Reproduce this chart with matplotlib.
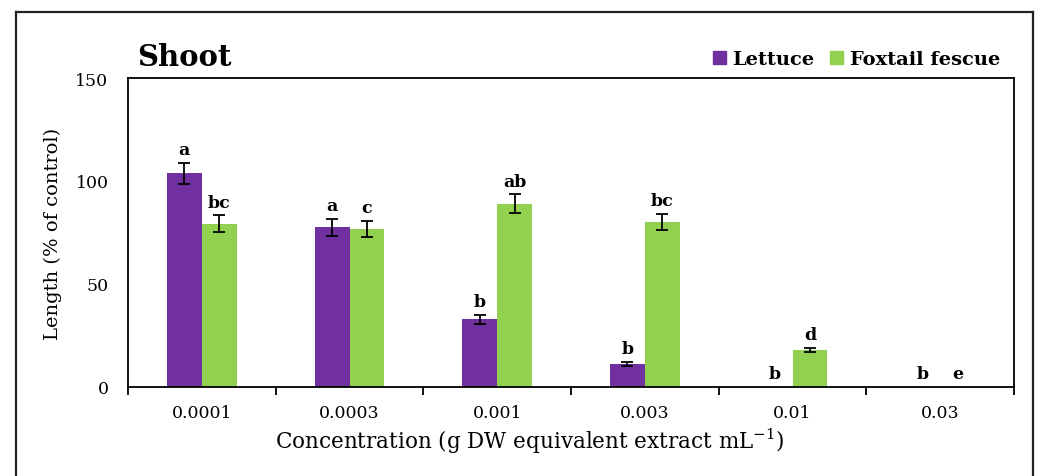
import numpy as np
import matplotlib
matplotlib.use('Agg')
import matplotlib.pyplot as plt
from matplotlib.lines import Line2D
from matplotlib.patches import Patch

#plot settings
matplotlib.rcParams.update({
    'font.family'      : 'DejaVu Serif',
    'mathtext.fontset' : 'dejavuserif',
})

categories = ['0.0001', '0.0003', '0.001', '0.003', '0.01', '0.03']
lettuce = [103.7, 77.5, 32.8, 11.2, 0, 0]
lettuce_err = [5.0, 4.0, 2.0, 1.0, 0, 0]
fescue = [79.3, 76.7, 89.0, 80.2, 18.0, 0]
fescue_err = [4.0, 4.0, 4.5, 4.0, 1.0, 0]
lettuce_letters = ['a', 'a', 'b', 'b', 'b', 'b']
fescue_letters = ['bc', 'c', 'ab', 'bc', 'd', 'e']

purple = '#7030A0'
green = '#92D050'

fig = plt.figure(figsize=(10.37, 4.77), dpi=100)
ax = fig.add_axes([128/1037, 1-388/477, 886/1037, 309/477])

x = np.arange(len(categories))
w = 0.237
ax.bar(x - w/2, lettuce, w, color=purple, label='Lettuce')
ax.bar(x + w/2, fescue, w, color=green, label='Foxtail fescue')

for xs, vals, errs, letters in [(x - w/2, lettuce, lettuce_err, lettuce_letters),
                                (x + w/2, fescue, fescue_err, fescue_letters)]:
  for xi, v, e, t in zip(xs, vals, errs, letters):
    if e > 0:
      ax.errorbar(xi, v, yerr=e, fmt='none', ecolor='black', elinewidth=1.3,
                  capsize=4, capthick=1.3)
    ax.annotate(t, (xi, v + e), xytext=(0, 3.5), textcoords='offset points',
                ha='center', va='bottom', fontsize=12.5, fontweight='bold')

ax.set_xlim(-0.5, 5.5)
ax.set_ylim(0, 150)
ax.set_yticks([0, 50, 100, 150])
ax.tick_params(axis='y', length=0, pad=14, labelsize=12.5)
ax.set_xticks(np.arange(-0.5, 6, 1))
ax.set_xticklabels([])
ax.tick_params(axis='x', which='major', direction='out', length=6, width=1.3)
ax.set_xticks(x, minor=True)
ax.set_xticklabels(categories, minor=True)
ax.tick_params(axis='x', which='minor', length=0, pad=12, labelsize=12.5)
for s in ax.spines.values():
  s.set_linewidth(1.3)

ax.set_ylabel('Length (% of control)', fontsize=14)
ax.yaxis.set_label_coords(-0.0745, 0.5)
ax.set_xlabel(r'Concentration (g DW equivalent extract mL$^{-1}$)', fontsize=15.5)
ax.xaxis.set_label_coords(0.453, -0.125)

fig.text(137/1037, 1-66/477, 'Shoot', fontsize=21, fontweight='bold',
         ha='left', va='baseline')

handles = [Patch(color=purple), Patch(color=green)]
ax.legend(handles, ['Lettuce', 'Foxtail fescue'], loc='center right',
          bbox_to_anchor=(0.995, 1.061), ncol=2, frameon=False, borderpad=0,
          handlelength=0.65, handleheight=0.65, handletextpad=0.35,
          columnspacing=0.8, prop={'size': 14, 'weight': 'bold'})

# outer frame
fx0, fx1, fy1 = 16/1037, 1033/1037, 1-13/477
for xs_, ys_ in [([fx0, fx0], [-0.1, fy1]), ([fx0, fx1], [fy1, fy1]),
                 ([fx1, fx1], [fy1, -0.1])]:
  fig.add_artist(Line2D(xs_, ys_, color='#222222', lw=1.6))

plt.savefig('out.png', dpi=100)
